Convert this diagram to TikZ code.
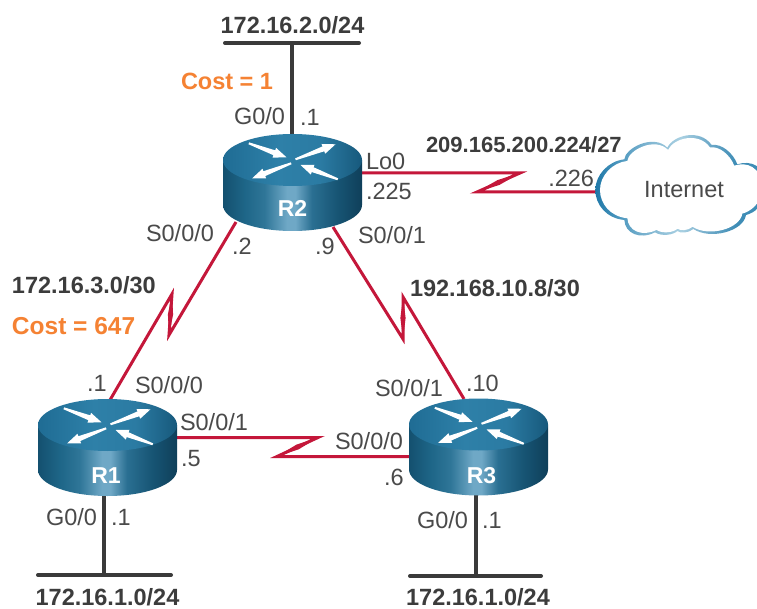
\documentclass[tikz,border=0pt]{standalone}
\usepackage{fontspec}
\setmainfont{Liberation Sans}
\usetikzlibrary{calc}
\definecolor{txt}{HTML}{4A4A4A}
\definecolor{boldtxt}{HTML}{3C3C3C}
\definecolor{costc}{HTML}{F58233}
\definecolor{linkc}{HTML}{C4173A}
\definecolor{lanc}{HTML}{3A3A3A}
\definecolor{ba}{HTML}{14506F}
\definecolor{bb}{HTML}{1E6688}
\definecolor{bc}{HTML}{2F7698}
\definecolor{bd}{HTML}{6FA8C6}
\definecolor{be}{HTML}{2A6F92}
\definecolor{bf}{HTML}{175574}
\definecolor{bg}{HTML}{0F3F5A}
\definecolor{ta}{HTML}{1F6C94}
\definecolor{tb}{HTML}{2E80A8}
\definecolor{tc}{HTML}{2B7BA3}
\definecolor{td}{HTML}{17597C}
\definecolor{ca}{HTML}{1F78A8}
\definecolor{cb}{HTML}{4E98BF}
\definecolor{cc}{HTML}{7DB4D0}
\definecolor{cd}{HTML}{A9D0E2}
\definecolor{ce}{HTML}{6FAAC9}
\definecolor{cf}{HTML}{3F8DB6}
\pgfdeclarehorizontalshading{bodyshade}{100bp}{
  color(0bp)=(ba);
  color(25bp)=(ba);
  color(33bp)=(bb);
  color(40bp)=(bc);
  color(48bp)=(bd);
  color(51bp)=(bd);
  color(57bp)=(be);
  color(66bp)=(bf);
  color(75bp)=(bg);
  color(100bp)=(bg)}
\pgfdeclarehorizontalshading{topshade}{100bp}{
  color(0bp)=(ta);
  color(25bp)=(ta);
  color(45bp)=(tb);
  color(60bp)=(tc);
  color(75bp)=(td);
  color(100bp)=(td)}
\pgfdeclarehorizontalshading{cloudshade}{100bp}{
  color(0bp)=(ca);
  color(25bp)=(ca);
  color(32bp)=(cb);
  color(40bp)=(cc);
  color(50bp)=(cd);
  color(58bp)=(ce);
  color(66bp)=(cf);
  color(75bp)=(cf);
  color(100bp)=(cf)}
\tikzset{
  lbl/.style={inner sep=0pt,outer sep=0pt,text height=17pt,text depth=0pt,text=txt,font=\fontsize{23.5}{26}\selectfont},
  blbl/.style={lbl,text=boldtxt,font=\fontsize{23.5}{26}\selectfont\bfseries},
  costlbl/.style={lbl,text=costc,font=\fontsize{23.5}{26}\selectfont\bfseries},
  rlbl/.style={lbl,text=white,font=\fontsize{23}{26}\selectfont\bfseries},
  lanbar/.style={draw=lanc,line width=4pt,line cap=round},
  lanstem/.style={draw=lanc,line width=4pt},
  linkline/.style={draw=linkc,line width=3pt,line join=miter,miter limit=12},
}
% one arrow of the router icon: tail x,y  tip x,y
\newcommand{\iconarrow}[4]{%
  \pgfmathsetmacro{\aang}{atan2(-((#4)-(#2)),(#3)-(#1))}%
  \pgfmathsetmacro{\alen}{veclen((#3)-(#1),(#4)-(#2))}%
  \pgfmathsetmacro{\ahead}{\alen-13}%
  \begin{scope}[shift={(#1,#2)},rotate=\aang]
    \fill[white] (0,-1) -- (\ahead,-2.6) -- (\ahead,-5.2) -- (\alen,0) -- (\ahead,5.2) -- (\ahead,2.6) -- (0,1) -- cycle;
  \end{scope}}
% name, cx, cy, label dx, label dy, text
\newcommand{\routericon}[6]{%
  \begin{scope}[shift={(#2,#3)}]
    \shade[shading=bodyshade] (-69.5,0) -- (-69.5,45) arc[start angle=180,end angle=0,x radius=69.5,y radius=26] -- (69.5,0) -- cycle;
    \shade[shading=topshade] (0,0) ellipse[x radius=69.5,y radius=26];
    \iconarrow{-43.7}{-16.7}{-6}{-2.7}
    \iconarrow{3}{-0.7}{43}{-15.7}
    \iconarrow{-1.3}{3.3}{-40.3}{18.3}
    \iconarrow{45.3}{19.3}{8}{5}
    \node[rlbl] (#1) at (#4,#5) {#6};
  \end{scope}}
% start, tip a, tip b, end
\newcommand{\zigzag}[4]{%
  \draw[linkline] (#1) -- (#2) -- (#3) -- (#4);
  \fill[linkc] (#2) -- ($(#2)!.5!(#3)!2.6pt!90:(#3)$) -- (#3) -- ($(#2)!.5!(#3)!2.6pt!-90:(#3)$) -- cycle;}
\newcommand{\cloudpath}{%
  (16,195) .. controls (16,150) and (55,108) .. (103,103)
  .. controls (105,70) and (190,25) .. (232,68)
  .. controls (250,30) and (330,10) .. (365,60)
  .. controls (395,55) and (430,85) .. (442,118)
  .. controls (480,105) and (530,120) .. (530,190)
  .. controls (530,240) and (490,265) .. (468,270)
  .. controls (460,320) and (360,345) .. (310,312)
  .. controls (295,325) and (270,325) .. (262,318)
  .. controls (250,330) and (215,335) .. (195,322)
  .. controls (150,345) and (105,325) .. (103,285)
  .. controls (50,280) and (16,240) .. (16,195) -- cycle}
\begin{document}
\begin{tikzpicture}[x=1pt,y=-1pt]
\useasboundingbox (0,0) rectangle (757,609);
\fill[white] (0,0) rectangle (757,609);
% ports
\coordinate (barTopL) at (225,43);
\coordinate (barTopR) at (359,43);
\coordinate (stemTop) at (292,43);
\coordinate (stemR2) at (292,136);
\coordinate (barR1L) at (38,575);
\coordinate (barR1R) at (171,575);
\coordinate (stemR1b) at (104,575);
\coordinate (stemR1) at (104,495);
\coordinate (barR3L) at (410,576);
\coordinate (barR3R) at (541,576);
\coordinate (stemR3b) at (476,576);
\coordinate (stemR3) at (476,495);
\coordinate (p21) at (236,222);
\coordinate (a21) at (169,335);
\coordinate (b21) at (172,294);
\coordinate (p12) at (110,400);
\coordinate (p23) at (333,227);
\coordinate (a23) at (403,339);
\coordinate (b23) at (403,297);
\coordinate (p32) at (464,399);
\coordinate (p13) at (175,437.5);
\coordinate (a13) at (318,437.5);
\coordinate (b13) at (277,456.5);
\coordinate (p31) at (412,456.5);
\coordinate (p2i) at (360,173);
\coordinate (a2i) at (520,173);
\coordinate (b2i) at (477,192);
\coordinate (pi2) at (598,192);
% LAN segments
\draw[lanbar] (barTopL) -- (barTopR);
\draw[lanstem] (stemTop) -- (stemR2);
\draw[lanbar] (barR1L) -- (barR1R);
\draw[lanstem] (stemR1b) -- (stemR1);
\draw[lanbar] (barR3L) -- (barR3R);
\draw[lanstem] (stemR3b) -- (stemR3);
% serial links
\zigzag{p21}{a21}{b21}{p12}
\zigzag{p23}{a23}{b23}{p32}
\zigzag{p13}{a13}{b13}{p31}
\zigzag{p2i}{a2i}{b2i}{pi2}
% routers
\routericon{R2}{292.5}{160}{0}{48}{R2}
\routericon{R1}{107.5}{425}{-1.5}{50}{R1}
\routericon{R3}{478.5}{424.5}{3}{50.5}{R3}
% cloud
\begin{scope}[shift={(590,125)},x=0.33333pt,y=-0.33333pt]
  \shade[shading=cloudshade] \cloudpath;
  \begin{scope}[shift={(270,190)},scale=0.945,shift={(-270,-190)}]
    \fill[white] \cloudpath;
  \end{scope}
\end{scope}
\node[lbl] (inet) at (684,189) {Internet};
% labels
\node[blbl] (n1) at (292.5,25) {172.16.2.0/24};
\node[costlbl,anchor=west] (c1) at (181,81) {Cost = 1};
\node[lbl,anchor=east] (g2) at (285,116) {G0/0};
\node[lbl,anchor=west] (g2a) at (300,117) {.1};
\node[lbl,anchor=west] (lo) at (366,161) {Lo0};
\node[lbl,anchor=west] (lo2) at (366,191) {.225};
\node[blbl,anchor=west,font=\fontsize{22}{26}\selectfont\bfseries] (n2) at (426,144) {209.165.200.224/27};
\node[lbl,anchor=east] (in2) at (594,178) {.226};
\node[lbl,anchor=west] (s1) at (146,233) {S0/0/0};
\node[lbl,anchor=west] (s1a) at (232,246) {.2};
\node[lbl,anchor=west] (s2a) at (315,246) {.9};
\node[lbl,anchor=west] (s2) at (358,235) {S0/0/1};
\node[blbl,anchor=west] (n3) at (12,285) {172.16.3.0/30};
\node[costlbl,anchor=west,font=\fontsize{24.5}{26}\selectfont\bfseries] (c2) at (12,326) {Cost = 647};
\node[blbl,anchor=west] (n4) at (410,288) {192.168.10.8/30};
\node[lbl,anchor=west] (r1a) at (87,383) {.1};
\node[lbl,anchor=west] (r1b) at (135,385) {S0/0/0};
\node[lbl,anchor=west] (r1c) at (180,422) {S0/0/1};
\node[lbl,anchor=west] (r1d) at (181,458) {.5};
\node[lbl,anchor=west] (r3a) at (375,388) {S0/0/1};
\node[lbl,anchor=west] (r3b) at (466,383) {.10};
\node[lbl,anchor=west] (r3c) at (335,441) {S0/0/0};
\node[lbl,anchor=west] (r3d) at (384,477) {.6};
\node[lbl,anchor=east] (g1) at (97,517) {G0/0};
\node[lbl,anchor=west] (g1a) at (111,517) {.1};
\node[blbl] (n5) at (107.5,596.5) {172.16.1.0/24};
\node[lbl,anchor=east] (g3) at (468,520) {G0/0};
\node[lbl,anchor=west] (g3a) at (482,520) {.1};
\node[blbl] (n6) at (478,597) {172.16.1.0/24};
\end{tikzpicture}
\end{document}
